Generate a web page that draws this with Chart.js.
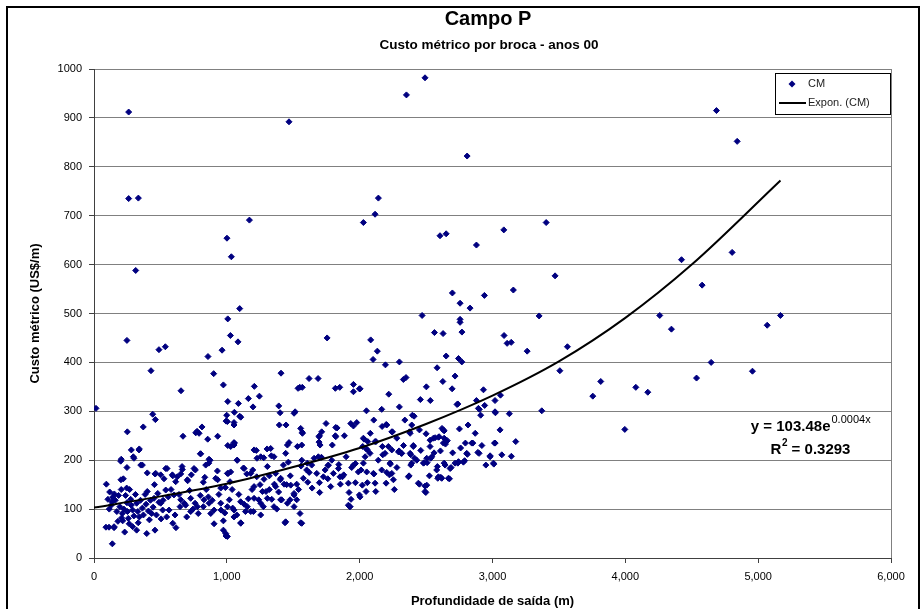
<!DOCTYPE html>
<html lang="pt">
<head>
<meta charset="UTF-8">
<title>Campo P</title>
<script src="https://cdn.jsdelivr.net/npm/chart.js"></script>
<style>
  html, body { margin: 0; padding: 0; background: #fff; }
  #quadro { position: relative; width: 924px; height: 609px; }
</style>
</head>
<body>
<div id="quadro"><canvas id="grafico" width="924" height="609"></canvas></div>
<script>
// profundidade de saída (m), custo métrico (US$/m)
const pontosCM = [
  // valores altos / isolados
  [261,912],[1468,892],[261,735],[334,736],[1170,691],[2028,686],[1001,654],[1034,616],[314,588],[1097,510],[1007,489],
  [2492,982],[2352,947],[2809,822],[2141,736],[2116,703],[2605,659],[2651,663],[2879,640],[3085,671],[3404,686],[3471,577],
  [2698,542],[2756,521],[2831,511],[2939,537],[3157,548],[2470,496],[3351,495],[2756,488],
  [4686,915],[4842,852],[4423,610],[4804,625],[4578,558],[4259,496],[5168,496],[4347,468],[5068,476],[4646,400],
  [4536,368],[4957,382],[4079,349],[4169,339],[3996,263],
  // 2000 - 3600 m
  [2756,482],[2083,446],[2563,461],[2628,459],[2770,462],[3087,455],[3110,439],[3141,441],[2133,423],[2101,406],
  [2194,395],[2299,401],[2651,413],[2744,408],[2769,401],[3261,423],[3564,432],[3507,383],[2583,389],[2718,372],
  [2329,365],[2349,369],[2626,361],[2003,346],[2502,350],[2696,346],[2932,344],[3815,361],[3755,331],[2219,335],
  [2457,324],[2532,322],[2299,309],[2733,314],[2879,322],[2894,306],[2911,292],[2941,312],[3019,322],[3060,333],
  [3022,297],[3127,295],[3371,301],[2051,301],[2166,304],[2106,282],[2169,269],[2200,273],[2247,258],[2340,282],
  [2397,292],[2392,272],[2375,258],[2620,265],[2636,260],[2751,264],[2816,272],[2033,243],[2058,221],[2123,238],
  [2171,228],[2216,228],[2242,221],[2297,219],[2314,214],[2404,230],[2500,254],[2530,241],[2568,246],[2598,248],
  [2646,233],[2608,219],[2796,235],[2852,235],[3015,235],[3175,238],[2811,212],[2899,214],[2982,209],[3010,192],
  [3142,208],[2174,211],[2231,192],[2385,211],[2414,204],[2385,190],[2372,168],[2204,175],[2224,170],[2199,153],
  [2254,160],[2261,140],[2108,172],[2058,154],[2048,136],[2121,136],[2003,125],[2485,195],[2508,195],[2535,204],
  [2585,187],[2636,194],[2688,185],[2588,163],[2611,165],[2676,162],[2525,168],[2450,151],[2498,134],[2492,147],
  [2739,194],[2781,196],
  // 0 - 2000 m
  [1027,455],[1084,442],[248,445],[489,426],[537,432],[964,425],[858,412],[1755,450],[429,383],[901,377],
  [1408,378],[974,354],[1207,351],[655,342],[1549,349],[1568,349],[1619,367],[1687,367],[1817,347],[1850,349],
  [1953,355],[1998,346],[1162,326],[1245,331],[1007,320],[1087,316],[1197,309],[15,306],[1391,311],[1401,297],
  [1506,296],[999,292],[1057,298],[1097,290],[442,294],[462,283],[994,280],[1054,277],[1395,272],[1446,272],
  [1556,265],[1568,257],[1747,275],[1697,250],[1694,237],[1830,266],[1817,250],[1885,250],[1933,275],[1978,277],
  [251,258],[371,268],[670,249],[776,259],[813,268],[856,243],[931,249],[1007,230],[1057,235],[281,221],
  [296,207],[341,223],[352,190],[801,213],[866,202],[864,194],[1077,200],[1222,220],[1303,223],[1335,209],
  [1355,207],[1227,204],[1278,205],[1426,190],[1463,196],[1559,188],[1606,194],[1657,204],[1712,206],[1762,189],
  [1843,191],[1898,207],[1968,193],[2023,228],[2051,223],[201,198],[248,185],[93,151],[153,131],[203,160],
  [221,162],[246,143],[401,174],[459,172],[502,170],[527,162],[550,183],[593,168],[627,166],[663,187],
  [653,172],[705,158],[733,170],[763,180],[834,165],[823,155],[929,178],[931,160],[1011,173],[1024,156],
  [989,144],[1125,184],[1150,172],[1195,180],[1225,166],[1280,161],[1320,168],[1358,151],[1403,160],[1431,151],
  [1478,168],[1526,151],[1576,163],[1609,155],[1642,143],[1697,154],[1699,134],[1760,162],[1782,146],[1855,151],
  [1870,166],[1920,134],[1915,153],[1968,154],[1998,129],[2020,149],[1935,120],[1925,105],[136,115],[115,100],
  [90,63],[151,62],[138,29],[213,91],[248,113],[276,120],[291,98],[321,112],[364,102],[392,110],
  [216,76],[231,53],[258,81],[291,64],[321,57],[341,84],[397,50],[417,78],[459,57],[434,91],
  [489,114],[517,98],[559,125],[547,84],[593,71],[617,62],[648,105],[698,84],[728,95],[761,112],
  [785,91],[823,105],[861,125],[879,91],[904,70],[956,98],[974,76],[974,57],[994,45],[1019,119],
  [1044,102],[1075,88],[1105,72],[1130,110],[1162,121],[1200,95],[1240,119],[1275,105],[1295,136],[1338,120],
  [1376,100],[1413,119],[1438,72],[1476,119],[1506,129],[1551,91],[1556,72],
  [113,63],[151,64],[205,202],[301,204],[339,221],[364,190],[465,173],[540,183],[590,170],[615,156],
  [665,181],[703,160],[753,183],[803,213],[841,190],[874,200],[916,163],[954,143],[1004,173],[1029,176],
  [1054,231],[1079,200],[401,136],[452,122],[502,112],[540,139],[602,129],[653,119],[690,108],[728,122],
  [778,105],[828,119],[866,112],[904,98],[954,112],[1004,105],[1054,98],[1104,115],[1154,105],[1205,122],
  [1255,112],[1305,122],[1355,105],[1405,119],[1456,112],[1506,105],[1054,84],[1105,71],[992,50],[1004,44],
  [1443,74],[1180,95],[1255,88],[1029,228],[1205,221],[1255,207],[1330,224],[1456,231],[1443,214],[1531,228],
  [1305,187],[1368,173],[1405,163],[1481,149],[1180,173],[1130,183],[1205,146],[1268,136],[1368,146],[1506,132],
  // nuvem densa perto da origem
  [105,120],[118,135],[130,108],[142,125],[160,118],[172,95],[185,128],[195,105],[208,82],[225,100],
  [238,128],[252,95],[265,70],[280,108],[300,86],[312,130],[330,95],[350,118],[372,88],[385,130],
  [410,96],[425,118],[445,104],[470,88],[480,132],[505,80],[520,118],[565,98],[580,140],[610,88],
  [180,75],[205,140],[268,140],[333,72],[455,150],
  [640,130],[680,112],[720,138],[745,100],[800,128],[845,140],[890,118],[940,130],[985,92],[1040,140],
  [1090,130],[1140,95],[1190,140],[1250,150],[1320,140],[1390,135],[1450,150],[1540,140],[1620,175],[1740,180],
  [1790,200],[1880,170],[1940,185],
  // 1500 - 3100 m, faixa central
  [1564,231],[1702,231],[1794,231],[1564,200],[1601,180],[1639,190],[1689,207],[1677,173],[1727,166],[1764,190],
  [1802,173],[1840,183],[1852,166],[1953,190],[1990,176],[2028,194],[2041,207],[2053,176],[2078,214],[2103,173],
  [2116,153],[2166,180],[2191,214],[2229,194],[2242,173],[2292,217],[2317,214],[2380,214],[2404,228],[2392,194],
  [2430,200],[2480,194],[2505,204],[2530,228],[2543,207],[2580,180],[2618,163],[2630,235],[2643,190],[2681,183],
  [2718,194],[2744,197],[2790,199],[2806,214],[2844,235],[2890,216],[2982,207],[3007,194],[3020,235],[3070,211],
  [1915,108],[1928,105],[2367,166],[2442,153],[2492,136],[2505,149],[2593,166],[2668,163],[1564,71],[1526,119],
  [1953,340],[2739,315],[2901,304],[1514,299],[3019,299],[1953,270],[2204,272],[2410,290],[1569,255],[1694,248],
  [1714,258],[1820,248],[1820,267],[2028,245],[2061,238],[2116,238],[2242,258],[2380,255],[2555,245],[2593,247],
  [2630,262],[2636,245],[3057,262],[1536,347],[1105,288],[1004,279],[1054,272],[766,256],[791,255],[1054,236],
  [1468,236],
  [2010,180],[2140,200],[2280,185],[2330,230],[2460,220],[2560,215],[2700,215],[2660,240],[2760,225],[2920,230],
  [2950,190],[2080,255],[2280,245],[2450,262],[2870,255]
];

// linha de tendência exponencial (pontos lidos sobre a curva)
const tendenciaX = [0, 500, 1000, 1500, 2000, 2500, 3000, 3500, 4000, 4500, 5168];
const tendenciaY = [103, 126, 152, 186, 225, 274, 332, 402, 491, 600, 772];

const ticksX = [0, 1000, 2000, 3000, 4000, 5000, 6000];
const ticksY = [0, 100, 200, 300, 400, 500, 600, 700, 800, 900, 1000];

const FONTE = '"Liberation Sans", Arial, sans-serif';

const extras = {
  id: 'extras',
  beforeDraw(chart) {
    const ctx = chart.ctx;
    ctx.save();
    ctx.fillStyle = '#fff';
    ctx.fillRect(0, 0, chart.width, chart.height);
    ctx.restore();
  },
  afterDraw(chart) {
    const { ctx, chartArea: a, scales: { x, y } } = chart;
    ctx.save();

    // borda direita da área do gráfico
    ctx.strokeStyle = '#808080';
    ctx.lineWidth = 1;
    ctx.beginPath();
    ctx.moveTo(a.right + 0.5, a.top);
    ctx.lineTo(a.right + 0.5, a.bottom);
    ctx.stroke();

    // moldura
    ctx.strokeStyle = '#000';
    ctx.lineWidth = 2;
    ctx.strokeRect(7, 7, 912, 640);

    // títulos
    ctx.fillStyle = '#000';
    ctx.textAlign = 'center';
    ctx.textBaseline = 'middle';
    ctx.font = 'bold 20px ' + FONTE;
    ctx.fillText('Campo P', 488, 19);
    ctx.font = 'bold 13.5px ' + FONTE;
    ctx.fillText('Custo métrico por broca - anos 00', 489, 45);

    // legenda
    const lx = a.right - 116, ly = a.top + 4;
    ctx.fillStyle = '#fff';
    ctx.fillRect(lx, ly, 115, 41);
    ctx.strokeStyle = '#000';
    ctx.lineWidth = 1;
    ctx.strokeRect(lx + 0.5, ly + 0.5, 115, 41);
    ctx.fillStyle = '#000080';
    ctx.beginPath();
    ctx.moveTo(lx + 17, ly + 7.5);
    ctx.lineTo(lx + 20.5, ly + 11);
    ctx.lineTo(lx + 17, ly + 14.5);
    ctx.lineTo(lx + 13.5, ly + 11);
    ctx.closePath();
    ctx.fill();
    ctx.strokeStyle = '#000';
    ctx.lineWidth = 2;
    ctx.beginPath();
    ctx.moveTo(lx + 4, ly + 30);
    ctx.lineTo(lx + 31, ly + 30);
    ctx.stroke();
    ctx.fillStyle = '#222';
    ctx.textAlign = 'left';
    ctx.font = '11px ' + FONTE;
    ctx.fillText('CM', lx + 33, ly + 11);
    ctx.fillText('Expon. (CM)', lx + 33, ly + 30);

    // equação da tendência
    const cx = x.getPixelForValue(5392);
    const y1 = y.getPixelForValue(268);
    const y2 = y.getPixelForValue(221);
    ctx.fillStyle = '#000';
    const fPrinc = 'bold 15px ' + FONTE;
    const fSup = '11px ' + FONTE;
    const fSupB = 'bold 10px ' + FONTE;

    ctx.font = fPrinc;
    const t1 = 'y = 103.48e';
    const w1 = ctx.measureText(t1).width;
    ctx.font = fSup;
    const s1 = '0.0004x';
    const ws1 = ctx.measureText(s1).width;
    let sx = cx - (w1 + ws1) / 2;
    ctx.font = fPrinc;
    ctx.fillText(t1, sx, y1);
    ctx.font = fSup;
    ctx.fillText(s1, sx + w1 + 1, y1 - 7);

    ctx.font = fPrinc;
    const r = 'R';
    const wr = ctx.measureText(r).width;
    const t2 = ' = 0.3293';
    const w2 = ctx.measureText(t2).width;
    ctx.font = fSupB;
    const ws2 = ctx.measureText('2').width;
    sx = cx - (wr + ws2 + w2) / 2;
    ctx.font = fPrinc;
    ctx.fillText(r, sx, y2);
    ctx.font = fSupB;
    ctx.fillText('2', sx + wr + 0.5, y2 - 7);
    ctx.font = fPrinc;
    ctx.fillText(t2, sx + wr + ws2 + 0.5, y2);

    ctx.restore();
  }
};

new Chart(document.getElementById('grafico'), {
  type: 'scatter',
  data: {
    datasets: [
      {
        label: 'Expon. (CM)',
        type: 'line',
        data: tendenciaX.map((v, i) => ({ x: v, y: tendenciaY[i] })),
        borderColor: '#000',
        borderWidth: 2,
        pointRadius: 0,
        fill: false,
        cubicInterpolationMode: 'monotone',
        order: 0
      },
      {
        label: 'CM',
        data: pontosCM.map(p => ({ x: p[0], y: p[1] })),
        pointStyle: 'rectRot',
        pointRadius: 3,
        pointBackgroundColor: '#000080',
        pointBorderColor: '#000080',
        pointBorderWidth: 1,
        order: 1
      }
    ]
  },
  options: {
    responsive: false,
    animation: false,
    events: [],
    layout: { padding: { top: 69, right: 33, bottom: 0, left: 0 } },
    plugins: {
      legend: { display: false },
      tooltip: { enabled: false },
      title: { display: false }
    },
    scales: {
      x: {
        type: 'linear',
        min: 0,
        max: 6000,
        afterFit(s) { s.height = 51; },
        afterBuildTicks(s) { s.ticks = ticksX.map(v => ({ value: v })); },
        ticks: {
          font: { family: FONTE, size: 11 },
          color: '#000',
          padding: 7,
          maxRotation: 0,
          callback: v => v.toLocaleString('en-US')
        },
        grid: {
          color: c => (c.tick && c.tick.value === 6000) ? '#808080' : 'rgba(0,0,0,0)',
          tickColor: '#404040',
          tickLength: 5
        },
        border: { color: '#404040', width: 1 },
        title: {
          display: true,
          text: 'Profundidade de saída (m)',
          font: { family: FONTE, size: 13, weight: 'bold' },
          color: '#000',
          padding: { top: 0, bottom: 0 }
        }
      },
      y: {
        min: 0,
        max: 1000,
        afterFit(s) { s.width = 94; },
        afterBuildTicks(s) { s.ticks = ticksY.map(v => ({ value: v })); },
        ticks: {
          font: { family: FONTE, size: 11 },
          color: '#000',
          padding: 7,
          callback: v => String(v)
        },
        grid: { color: '#808080', tickColor: '#404040', tickLength: 5 },
        border: { color: '#404040', width: 1 },
        title: {
          display: true,
          text: 'Custo métrico (US$/m)',
          font: { family: FONTE, size: 13, weight: 'bold' },
          color: '#000',
          padding: { top: 28, bottom: 0 }
        }
      }
    }
  },
  plugins: [extras]
});
</script>
</body>
</html>
